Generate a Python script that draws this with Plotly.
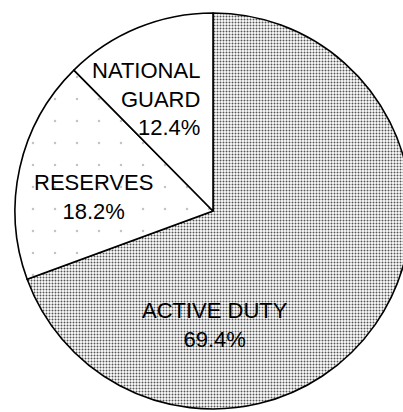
import plotly.graph_objects as go

labels = ["ACTIVE DUTY", "RESERVES", "NATIONAL<br>GUARD"]
shares = [69.4, 18.2, 12.4]

# label positions in pixels of the 403x412 picture (x, y of text block centre / anchor)
label_px = [(215, 325), (93, 197), (202, 99)]
label_anchor = ["center", "center", "right"]

# plot area geometry
W, H = 420, 412
L, T, SIDE = 15, 13, 396

fig = go.Figure()
fig.add_trace(
    go.Pie(
        labels=labels,
        values=shares,
        sort=False,
        direction="clockwise",
        rotation=0,
        textinfo="none",
        hoverinfo="label+percent",
        showlegend=False,
        marker=dict(
            colors=["white", "white", "white"],
            line=dict(color="black", width=1.6),
            pattern=dict(
                shape=[".", ".", ""],
                fgcolor=["#555555", "#c4c4c4", "#000000"],
                bgcolor=["white", "white", "white"],
                size=[3, 22, 8],
                solidity=[0.35, 0.01, 0.3],
            ),
        ),
    )
)

for lab, val, (px, py), anchor in zip(labels, shares, label_px, label_anchor):
    fig.add_annotation(
        text=f"{lab}<br>{val:.1f}%",
        x=(px - L) / SIDE,
        y=1 - (py - T) / SIDE,
        xref="paper",
        yref="paper",
        xanchor=anchor,
        yanchor="middle",
        align=anchor,
        showarrow=False,
        font=dict(family="Liberation Sans, Arial, sans-serif", size=22, color="black"),
    )

fig.update_layout(
    width=W,
    height=H,
    margin=dict(l=L, r=W - L - SIDE, t=T, b=H - T - SIDE),
    paper_bgcolor="white",
    plot_bgcolor="white",
)

fig.write_html(
    "out.html",
    config={"displayModeBar": False},
    post_script="document.body.style.margin='0';document.body.style.overflow='hidden';",
)
